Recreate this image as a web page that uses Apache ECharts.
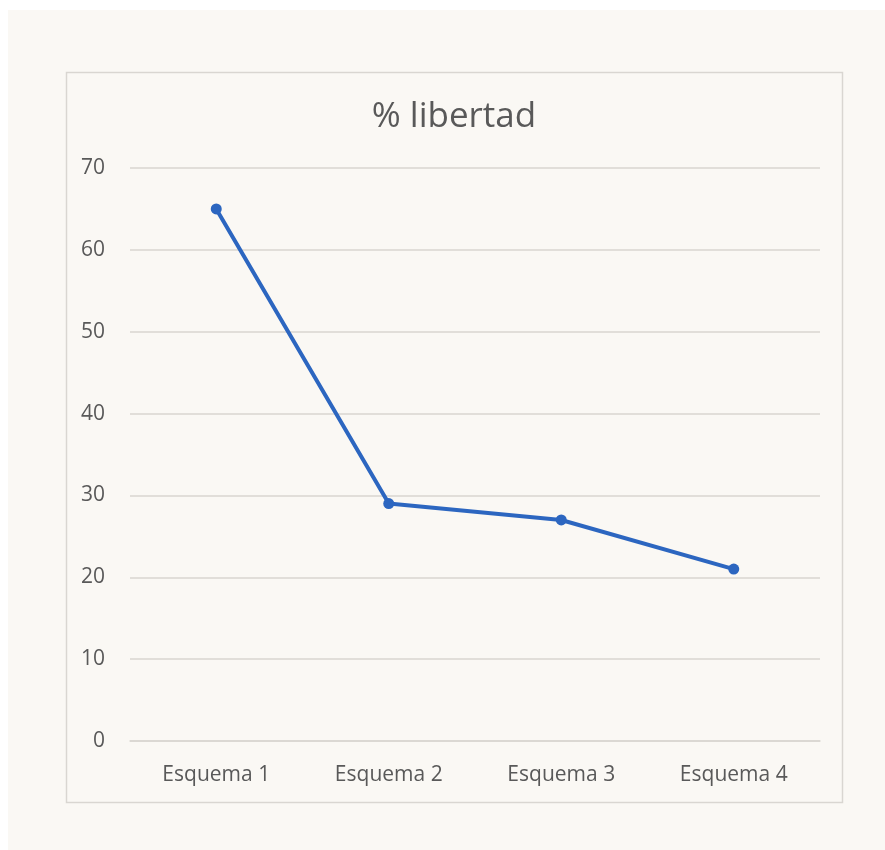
<!DOCTYPE html>
<html><head><meta charset="utf-8">
<script src="https://cdn.jsdelivr.net/npm/echarts@6/dist/echarts.min.js"></script>
<style>html,body{margin:0;padding:0;background:#ffffff;}#c{width:885px;height:850px;}</style>
</head><body><div id="c"></div>
<script>
const categories = ['Esquema 1','Esquema 2','Esquema 3','Esquema 4'];
const values = [65, 29, 27, 21];
const titleText = '% libertad';

const chart = echarts.init(document.getElementById('c'), null, {renderer:'canvas'});
chart.setOption({
  animation:false,
  backgroundColor:'#ffffff',
  graphic:[
    {type:'rect', z:-10, shape:{x:8,y:10,width:877,height:840}, style:{fill:'#faf8f4'}},
    {type:'rect', z:-9, shape:{x:66.5,y:72.5,width:776,height:730}, style:{fill:'#faf8f4', stroke:'#d9d6d1', lineWidth:1.5}}
  ],
  title:{text:titleText, left:449, top:95, textAlign:'center',
    textStyle:{fontFamily:'Open Sans', fontWeight:'normal', fontSize:35, color:'#595959'}},
  grid:{left:130, right:65, top:168, bottom:109, containLabel:false},
  xAxis:{type:'category', data:categories, boundaryGap:true,
    axisLine:{show:true, lineStyle:{color:'#d9d6d1', width:1.5}},
    axisTick:{show:false},
    axisLabel:{margin:24, fontFamily:'Open Sans', fontSize:21, color:'#595959'}},
  yAxis:{type:'value', min:0, max:70, interval:10,
    axisLine:{show:false}, axisTick:{show:false},
    splitLine:{lineStyle:{color:'#d9d6d1', width:1.5}},
    axisLabel:{margin:25, fontFamily:'Open Sans', fontSize:21, color:'#595959'}},
  series:[{type:'line', data:values, symbol:'circle', symbolSize:11,
    lineStyle:{color:'#2c66c0', width:4},
    itemStyle:{color:'#2c66c0'}}]
});
</script></body></html>
